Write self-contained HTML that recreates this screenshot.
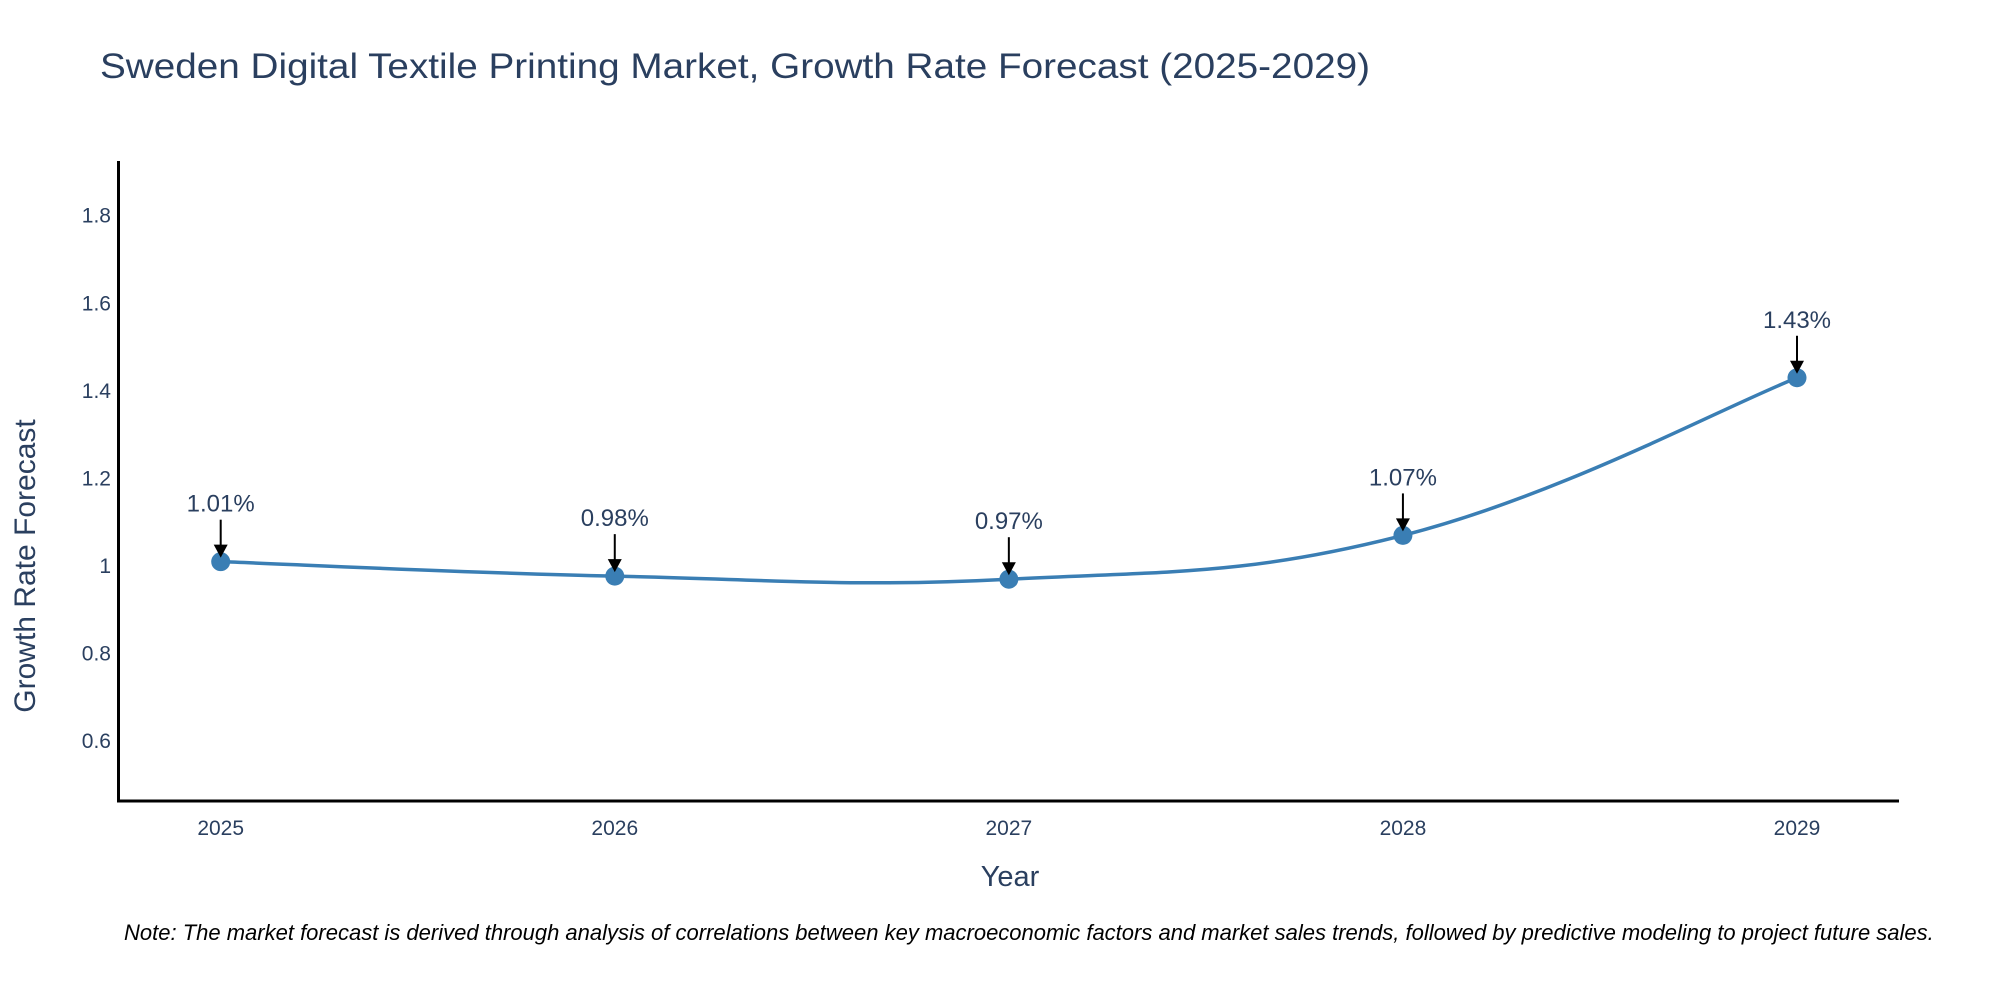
<!DOCTYPE html>
<html><head><meta charset="utf-8"><style>
html,body{margin:0;padding:0;background:#fff;overflow:hidden;}
svg{display:block;font-family:"Liberation Sans","DejaVu Sans",sans-serif;}
</style></head><body>
<svg id="chart" width="2000" height="1000" viewBox="0 0 2000 1000">
<text x="100" y="78" font-size="35" fill="#2a3f5f" textLength="1270" lengthAdjust="spacingAndGlyphs">Sweden Digital Textile Printing Market, Growth Rate Forecast (2025-2029)</text>
<g id="yticks"></g>
<g id="xticks"></g>
<path id="line" fill="none" stroke="#3a7eb4" stroke-width="3.5"/>
<g id="points"></g>
<g id="annos"></g>
<line x1="118.5" y1="161" x2="118.5" y2="802" stroke="#000" stroke-width="3"/>
<line x1="117" y1="801" x2="1899" y2="801" stroke="#000" stroke-width="3"/>
<text x="1010" y="886" font-size="29" fill="#2a3f5f" text-anchor="middle">Year</text>
<text transform="translate(35,566) rotate(-90)" font-size="30" fill="#2a3f5f" text-anchor="middle">Growth Rate Forecast</text>
<text x="124" y="940" font-size="22" font-style="italic" fill="#000">Note: The market forecast is derived through analysis of correlations between key macroeconomic factors and market sales trends, followed by predictive modeling to project future sales.</text>
</svg>
<script>
const years = ["2025","2026","2027","2028","2029"];
const values = [1.01, 0.977, 0.97, 1.07, 1.43];
const labels = ["1.01%","0.98%","0.97%","1.07%","1.43%"];
const yTicks = [0.6, 0.8, 1, 1.2, 1.4, 1.6, 1.8];
const yTickLabels = ["0.6","0.8","1","1.2","1.4","1.6","1.8"];

(function(){
const NS = "http://www.w3.org/2000/svg";
const yMin = 0.4635, yMax = 1.925, plotTop = 161, plotBottom = 801;
const yS = v => plotBottom - (v - yMin) / (yMax - yMin) * (plotBottom - plotTop);
const x0 = 220.7, x1 = 1797;
const xS = i => x0 + i * (x1 - x0) / (years.length - 1);
function mk(tag, attrs, parent){const e=document.createElementNS(NS,tag);for(const k in attrs)e.setAttribute(k,attrs[k]);parent.appendChild(e);return e;}

const yt = document.getElementById('yticks');
yTicks.forEach((v,i)=>{
  const t = mk('text',{x:111,y:yS(v)+7,'font-size':21,fill:'#2a3f5f','text-anchor':'end'},yt);
  
  
  t.textContent = yTickLabels[i];
});
const xt = document.getElementById('xticks');
years.forEach((y,i)=>{
  const t = mk('text',{x:xS(i),y:835,'font-size':21,fill:'#2a3f5f','text-anchor':'middle'},xt);
  
  
  t.textContent = y;
});

const pts = values.map((v,i)=>[xS(i), yS(v)]);
let d = `M${pts[0][0]},${pts[0][1]}`;
const s = 0.2;
for(let i=0;i<pts.length-1;i++){
  const p0 = pts[Math.max(0,i-1)], p1 = pts[i], p2 = pts[i+1], p3 = pts[Math.min(pts.length-1,i+2)];
  const c1 = [p1[0]+(p2[0]-p0[0])*s, p1[1]+(p2[1]-p0[1])*s];
  const c2 = [p2[0]-(p3[0]-p1[0])*s, p2[1]-(p3[1]-p1[1])*s];
  d += ` C${c1[0]},${c1[1]} ${c2[0]},${c2[1]} ${p2[0]},${p2[1]}`;
}
document.getElementById('line').setAttribute('d', d);

const pg = document.getElementById('points');
const ag = document.getElementById('annos');
pts.forEach((p,i)=>{
  const c = mk('circle',{cx:p[0],cy:p[1],r:9.5,fill:'#3a7eb4'},pg);
  
  
  const l = mk('line',{x1:p[0],y1:p[1]-42,x2:p[0],y2:p[1]-14,stroke:'#000','stroke-width':2},ag);
  
  
  const h = mk('path',{d:`M${p[0]-7},${p[1]-17} L${p[0]+7},${p[1]-17} L${p[0]},${p[1]-4} Z`,fill:'#000'},ag);
  
  
  const t = mk('text',{x:p[0],y:p[1]-50,'font-size':24,fill:'#2a3f5f','text-anchor':'middle'},ag);
  
  
  t.textContent = labels[i];
});
})();
</script>
</body></html>
